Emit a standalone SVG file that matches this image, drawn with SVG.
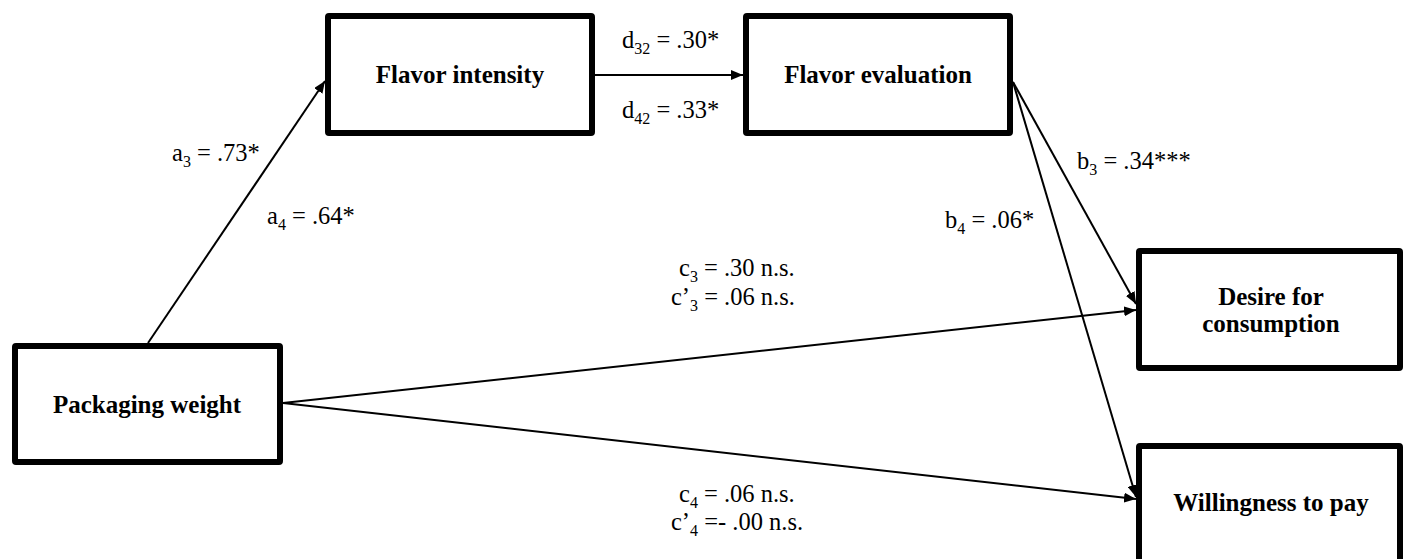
<svg xmlns="http://www.w3.org/2000/svg" width="1411" height="559" viewBox="0 0 1411 559">
<style>
.box{fill:#fff;stroke:#000;stroke-width:6;stroke-linejoin:round}
.nl{font-family:'Liberation Serif','Tinos','Times New Roman','DejaVu Serif',serif;font-weight:bold;font-size:25px;fill:#000;text-anchor:middle}
.lab{font-family:'Liberation Serif','Tinos','Times New Roman','DejaVu Serif',serif;font-size:24.5px;fill:#000}
.sub{font-size:16px}
.con{stroke:#000;stroke-width:2;fill:none}
</style>
<defs>
<marker id="ah" viewBox="0 0 12 10" refX="12" refY="5" markerWidth="12" markerHeight="10" markerUnits="userSpaceOnUse" orient="auto">
<path d="M0,0 L12,5 L0,10 Z" fill="#000"/>
</marker>
</defs>
<rect width="1411" height="559" fill="#fff"/>
<g id="connectors">
<line class="con" x1="148" y1="343" x2="325" y2="81" marker-end="url(#ah)"/>
<line class="con" x1="595" y1="75" x2="743" y2="75" marker-end="url(#ah)"/>
<line class="con" x1="1013" y1="82" x2="1136" y2="304" marker-end="url(#ah)"/>
<line class="con" x1="1013" y1="82" x2="1136" y2="497" marker-end="url(#ah)"/>
<line class="con" x1="283" y1="403" x2="1136" y2="310" marker-end="url(#ah)"/>
<line class="con" x1="283" y1="403" x2="1136" y2="499" marker-end="url(#ah)"/>
</g>
<g id="labels">
<text class="lab" x="172" y="161">a<tspan class="sub" dy="6">3</tspan><tspan dy="-6"> = .73*</tspan></text>
<text class="lab" x="267" y="224">a<tspan class="sub" dy="6">4</tspan><tspan dy="-6"> = .64*</tspan></text>
<text class="lab" x="622" y="48">d<tspan class="sub" dy="6">32</tspan><tspan dy="-6"> = .30*</tspan></text>
<text class="lab" x="622" y="118">d<tspan class="sub" dy="6">42</tspan><tspan dy="-6"> = .33*</tspan></text>
<text class="lab" x="1077" y="169">b<tspan class="sub" dy="6">3</tspan><tspan dy="-6"> = .34***</tspan></text>
<text class="lab" x="945" y="228">b<tspan class="sub" dy="6">4</tspan><tspan dy="-6"> = .06*</tspan></text>
<text class="lab" x="679" y="276">c<tspan class="sub" dy="6">3</tspan><tspan dy="-6"> = .30 n.s.</tspan></text>
<text class="lab" x="671" y="305">c’<tspan class="sub" dy="6">3</tspan><tspan dy="-6"> = .06 n.s.</tspan></text>
<text class="lab" x="679" y="502">c<tspan class="sub" dy="6">4</tspan><tspan dy="-6"> = .06 n.s.</tspan></text>
<text class="lab" x="671" y="530">c’<tspan class="sub" dy="6">4</tspan><tspan dy="-6"> =- .00 n.s.</tspan></text>
</g>
<g id="flavor-intensity">
<rect class="box" x="328" y="16" width="264" height="117" rx="1"/>
<text class="nl" x="460" y="83">Flavor intensity</text>
</g>
<g id="flavor-evaluation">
<rect class="box" x="746" y="16" width="264" height="117" rx="1"/>
<text class="nl" x="878" y="83">Flavor evaluation</text>
</g>
<g id="packaging-weight">
<rect class="box" x="15" y="346" width="265" height="116" rx="1"/>
<text class="nl" x="147" y="413">Packaging weight</text>
</g>
<g id="desire-for-consumption">
<rect class="box" x="1139" y="251" width="261" height="117" rx="1"/>
<text class="nl" x="1271" y="305">Desire for</text>
<text class="nl" x="1271" y="332">consumption</text>
</g>
<g id="willingness-to-pay">
<rect class="box" x="1139" y="446" width="261" height="120" rx="1"/>
<text class="nl" x="1271" y="511">Willingness to pay</text>
</g>
</svg>
